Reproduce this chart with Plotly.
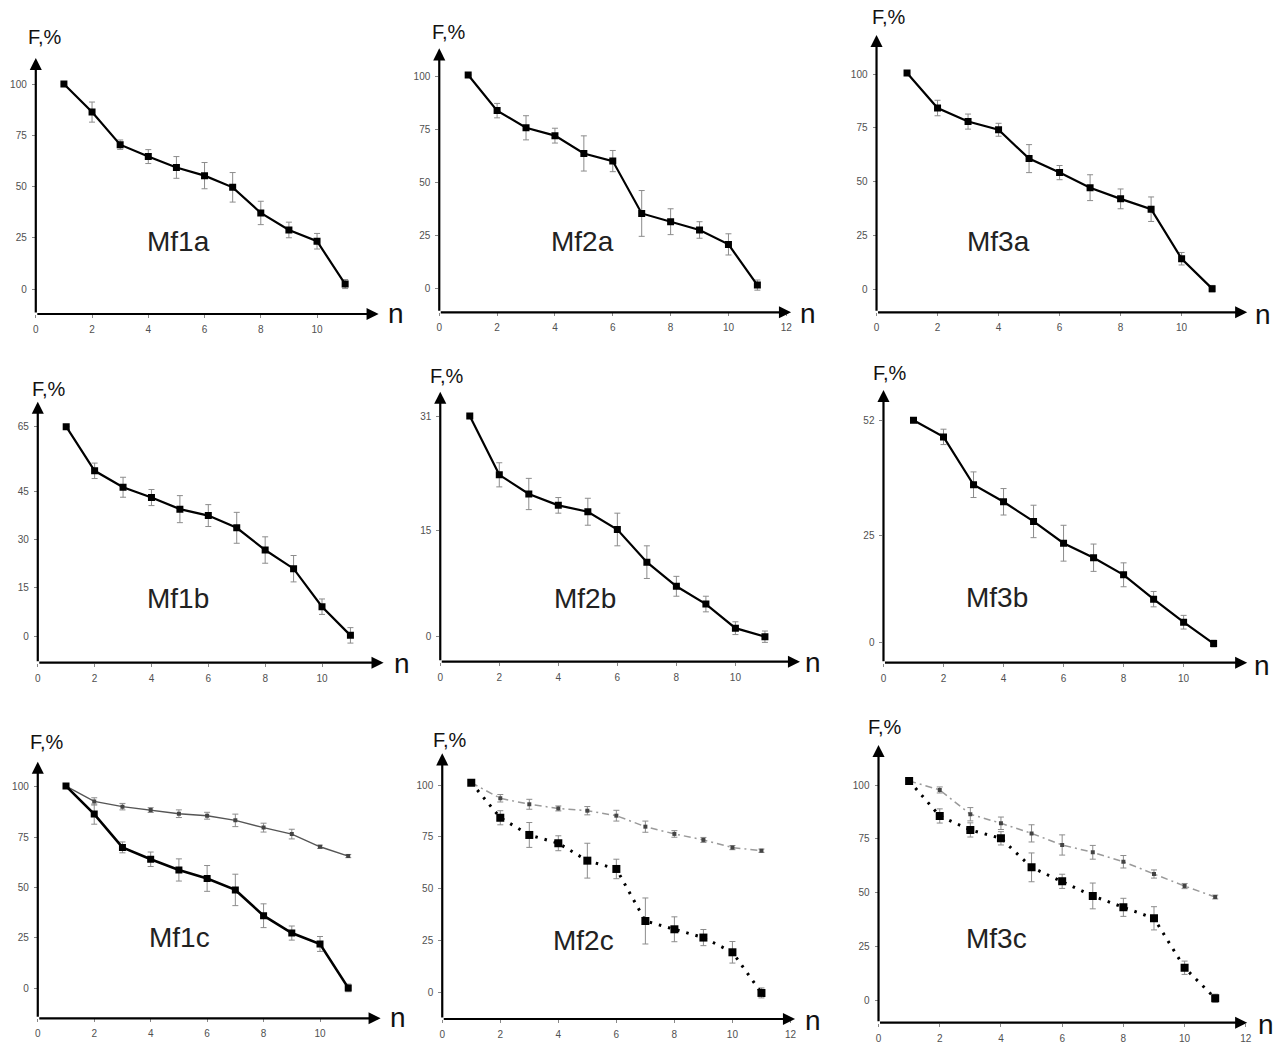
import plotly.graph_objects as go

# ---------------- data ----------------
n = [1, 2, 3, 4, 5, 6, 7, 8, 9, 10, 11]

mf1a_F = [100, 86.3, 70.4, 64.6, 59.3, 55.3, 49.6, 37.1, 28.8, 23.3, 2.4]
mf1a_err = [0, 4.9, 2.3, 3.4, 5.3, 6.4, 7.2, 5.7, 3.8, 3.8, 2.2]
mf2a_F = [100.8, 84.0, 75.9, 72.2, 63.8, 60.2, 35.5, 31.6, 27.7, 20.9, 1.7]
mf2a_err = [0, 3.4, 5.7, 3.5, 8.3, 5.0, 10.8, 6.1, 3.9, 5.0, 2.4]
mf3a_F = [100.5, 84.2, 77.9, 74.1, 60.7, 54.2, 47.2, 42.0, 37.2, 14.2, 0.3]
mf3a_err = [0, 3.6, 3.5, 3.0, 6.5, 3.3, 6.0, 4.6, 5.7, 2.9, 1.5]

mf1b_F = [65, 51.3, 46.2, 43.0, 39.4, 37.4, 33.6, 26.7, 20.9, 9.1, 0.2]
mf1b_err = [0, 2.4, 3.1, 2.5, 4.2, 3.4, 4.8, 4.1, 4.1, 2.4, 2.4]
mf2b_F = [31.1, 22.8, 20.1, 18.5, 17.6, 15.1, 10.5, 7.1, 4.6, 1.2, 0.0]
mf2b_err = [0, 1.7, 2.2, 1.1, 1.9, 2.3, 2.3, 1.4, 1.1, 0.9, 0.8]
mf3b_F = [52.1, 48.2, 37.0, 33.0, 28.4, 23.3, 19.9, 15.9, 10.2, 4.8, -0.2]
mf3b_err = [0, 1.8, 3.0, 3.1, 3.8, 4.2, 3.2, 2.8, 1.8, 1.6, 0.8]

mf1c_low_F = [100.3, 86.4, 69.9, 64.0, 58.7, 54.5, 48.8, 36.0, 27.4, 22.0, 0.2]
mf1c_low_err = [0, 5.0, 2.7, 3.6, 5.5, 6.4, 7.8, 5.9, 3.5, 3.7, 1.9]
mf1c_up_F = [100.3, 92.7, 90.1, 88.4, 86.6, 85.6, 83.3, 79.7, 76.5, 70.2, 65.6]
mf1c_up_err = [0, 1.8, 1.6, 1.2, 1.9, 1.7, 3.1, 2.2, 2.4, 0.8, 0.8]
mf2c_low_F = [101.1, 84.2, 75.9, 71.9, 63.5, 59.5, 34.4, 30.4, 26.4, 19.3, -0.3]
mf2c_low_err = [0, 3.4, 6.0, 3.6, 8.4, 4.7, 11.1, 6.0, 3.9, 5.2, 2.4]
mf2c_up_F = [101.1, 93.6, 90.7, 88.7, 87.6, 85.2, 79.9, 76.4, 73.5, 69.8, 68.3]
mf2c_up_err = [0, 1.8, 2.4, 1.2, 2.0, 2.6, 2.7, 1.6, 1.2, 1.0, 0.8]
mf3c_low_F = [101.9, 85.6, 79.1, 75.2, 61.7, 55.2, 48.4, 43.1, 38.0, 15.0, 0.8]
mf3c_low_err = [0, 3.3, 3.3, 3.1, 6.7, 3.3, 6.0, 4.2, 5.4, 3.1, 1.9]
mf3c_up_F = [101.9, 97.7, 86.4, 82.2, 77.5, 72.1, 68.7, 64.3, 58.6, 53.0, 47.9]
mf3c_up_err = [0, 1.4, 3.1, 2.9, 4.0, 4.7, 3.2, 2.9, 1.9, 1.2, 0.9]

panel_names = ["Mf1a", "Mf2a", "Mf3a", "Mf1b", "Mf2b", "Mf3b", "Mf1c", "Mf2c", "Mf3c"]
x_ticks_short = [0, 2, 4, 6, 8, 10]
x_ticks_long = [0, 2, 4, 6, 8, 10, 12]
y_ticks_pct = [0, 25, 50, 75, 100]
y_ticks_f1b = [0, 15, 30, 45, 65]
y_ticks_f2b = [0, 15, 31]
y_ticks_f3b = [0, 25, 52]
y_label = "F,%"
x_label = "n"

# ---------------- layout geometry (pixels) ----------------
W, H = 1285, 1044
# x0: y-axis px, x1: arrow end px, xu: px per unit, y0: px of F=0,
# yu: px per unit, yb: x-axis px, yt: arrow top px
geo = [
    dict(x0=33, x1=378, xu=28.3, y0=289, yu=2.05, yb=314, yt=58),
    dict(x0=439, x1=793, xu=29.1, y0=288.7, yu=2.12, yb=312.3, yt=48.3),
    dict(x0=879, x1=1252, xu=30.7, y0=289.3, yu=2.153, yb=312.3, yt=35),
    dict(x0=35, x1=383, xu=28.6, y0=636, yu=3.22, yb=662.7, yt=401.7),
    dict(x0=440, x1=802, xu=29.7, y0=636.7, yu=7.1, yb=661.7, yt=391.7),
    dict(x0=886, x1=1252, xu=30.2, y0=642.7, yu=4.27, yb=662.7, yt=390),
    dict(x0=35, x1=380, xu=28.4, y0=988.3, yu=2.016, yb=1018.3, yt=761.7),
    dict(x0=442, x1=797, xu=29.2, y0=992.3, yu=2.073, yb=1019, yt=753.3),
    dict(x0=881, x1=1252, xu=30.8, y0=1000, yu=2.15, yb=1022.7, yt=745),
]
flab = [(23, 37), (430, 32), (872, 17), (27, 389), (428, 376), (873, 373),
        (25, 742), (431, 740), (868, 727)]
nlab = [(395, 313), (810, 313), (1268, 314), (402, 663), (815, 662), (1267, 665),
        (397, 1017), (815, 1020), (1271, 1024)]
mlab = [(177, 242), (583, 242), (1002, 242), (176, 598), (586, 598), (1000, 597),
        (178, 937), (584, 941), (1000, 938)]

xt = [x_ticks_short, x_ticks_long, x_ticks_short, x_ticks_short, x_ticks_short,
      x_ticks_short, x_ticks_short, x_ticks_long, x_ticks_long]
yt_list = [y_ticks_pct, y_ticks_pct, y_ticks_pct, y_ticks_f1b, y_ticks_f2b,
           y_ticks_f3b, y_ticks_pct, y_ticks_pct, y_ticks_pct]

fig = go.Figure()
ERR = dict(type="data", color="#8c8c8c", thickness=1, width=3)

def ax_ids(i):
    s = "" if i == 0 else str(i + 1)
    return "x" + s, "y" + s

def add_series(i, F, err, lw=2.2, col="black", ms=7, mcol="black", dash="solid"):
    xa, ya = ax_ids(i)
    fig.add_trace(go.Scatter(
        x=n, y=F, mode="lines+markers", xaxis=xa, yaxis=ya,
        line=dict(color=col, width=lw, dash=dash),
        marker=dict(symbol="square", size=ms, color=mcol),
        error_y=dict(array=err, **ERR), showlegend=False))

add_series(0, mf1a_F, mf1a_err)
add_series(1, mf2a_F, mf2a_err)
add_series(2, mf3a_F, mf3a_err)
add_series(3, mf1b_F, mf1b_err)
add_series(4, mf2b_F, mf2b_err)
add_series(5, mf3b_F, mf3b_err)
add_series(6, mf1c_up_F, mf1c_up_err, lw=1.4, col="#555", ms=4, mcol="#444")
add_series(6, mf1c_low_F, mf1c_low_err, lw=2.6)
add_series(7, mf2c_up_F, mf2c_up_err, lw=1.5, col="#9a9a9a", ms=4, mcol="#444",
           dash="7px,4px,2px,4px")
add_series(7, mf2c_low_F, mf2c_low_err, lw=3, col="black", ms=8, mcol="black",
           dash="2.5px,7px")
add_series(8, mf3c_up_F, mf3c_up_err, lw=1.5, col="#9a9a9a", ms=4, mcol="#444",
           dash="7px,4px,2px,4px")
add_series(8, mf3c_low_F, mf3c_low_err, lw=3, col="black", ms=8, mcol="black",
           dash="2.5px,7px")

tickfont = dict(family="Liberation Sans, Arial, sans-serif", size=10, color="#505050")
layout = dict(width=W, height=H, margin=dict(l=0, r=0, t=0, b=0), autosize=False,
              paper_bgcolor="white", plot_bgcolor="white", showlegend=False)
annotations = []
for i, g in enumerate(geo):
    s = "" if i == 0 else str(i + 1)
    xmax = (g["x1"] - g["x0"]) / g["xu"]
    ymin = -(g["yb"] - g["y0"]) / g["yu"]
    ymax = (g["y0"] - g["yt"]) / g["yu"]
    layout["xaxis" + s] = dict(
        domain=[g["x0"] / W, g["x1"] / W], range=[0, xmax], anchor="y" + s,
        showgrid=False, zeroline=False, showline=False,
        tickmode="array", tickvals=xt[i], ticktext=[str(v) for v in xt[i]],
        ticks="outside", ticklen=3, tickcolor="#888", tickwidth=1,
        ticklabelstandoff=3, tickfont=tickfont, fixedrange=True)
    layout["yaxis" + s] = dict(
        domain=[1 - g["yb"] / H, 1 - g["yt"] / H], range=[ymin, ymax], anchor="x" + s,
        showgrid=False, zeroline=False, showline=False,
        tickmode="array", tickvals=yt_list[i], ticktext=[str(v) for v in yt_list[i]],
        ticks="outside", ticklen=3, tickcolor="#888", tickwidth=1,
        ticklabelstandoff=3, tickfont=tickfont, fixedrange=True)
    xr, yr = "x" + s, "y" + s
    for (tx, ty) in [(xmax, ymin), (0, ymax)]:
        annotations.append(dict(x=tx, y=ty, ax=0, ay=ymin, xref=xr, yref=yr,
                                axref=xr, ayref=yr, text="", showarrow=True,
                                arrowhead=2, arrowsize=1.1, arrowwidth=2.2,
                                arrowcolor="black", standoff=0))
    fx, fy = flab[i]
    annotations.append(dict(x=fx / W, y=1 - fy / H, xref="paper", yref="paper",
                            text=y_label, showarrow=False, xanchor="left", yanchor="middle",
                            font=dict(family="Liberation Sans, Arial", size=20, color="#111")))
    nx, ny = nlab[i]
    annotations.append(dict(x=nx / W, y=1 - ny / H, xref="paper", yref="paper",
                            text=x_label, showarrow=False, xanchor="center", yanchor="middle",
                            font=dict(family="Liberation Sans, Arial", size=28, color="#111")))
    mx, my = mlab[i]
    annotations.append(dict(x=mx / W, y=1 - my / H, xref="paper", yref="paper",
                            text=panel_names[i], showarrow=False, xanchor="center",
                            yanchor="middle",
                            font=dict(family="Liberation Sans, Arial", size=28, color="#222")))
layout["annotations"] = annotations
fig.update_layout(**layout)
fig.write_html("out.html")
